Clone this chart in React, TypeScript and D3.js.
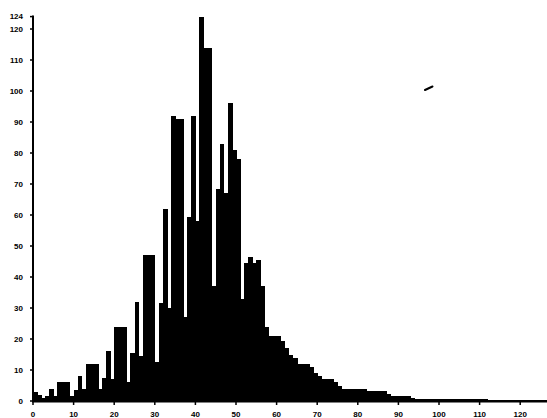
import React from 'react'
import * as d3 from 'd3'

const WIDTH = 547
const HEIGHT = 418

// one bin per unit, starting at 0
const binStarts: number[] = d3.range(0, 127)
const counts: number[] = [
  3, 2, 1, 1.5, 4, 1.5, 6, 6, 6, 1.5,
  3.5, 8, 4, 12, 12, 12, 4, 7.5, 16, 7,
  24, 24, 24, 6, 15.5, 32, 14.5, 47, 47, 47,
  12.5, 31.5, 62, 30, 92, 91, 91, 27, 59.5, 92,
  58, 124, 114, 114, 37, 68.5, 83, 67, 96, 81,
  78, 33, 44.5, 46.5, 44.5, 45.5, 37, 24, 21, 21,
  21, 19.5, 17, 15, 14, 12, 12, 12, 11, 9,
  8, 7, 7, 7, 6, 5, 4, 4, 4, 4,
  4, 4, 3.2, 3.2, 3.2, 3.2, 3.2, 2.2, 1.5, 1.5,
  1.5, 1.5, 1.5, 1, 0.7, 0.7, 0.7, 0.7, 0.7, 0.7,
  0.7, 0.7, 0.8, 0.8, 0.8, 0.8, 0.8, 0.8, 0.8, 0.8,
  0.8, 0.8, 0.3, 0.3, 0.3, 0.3, 0.3, 0.3, 0.3, 0.3,
  0.3, 0.3, 0.3, 0.3, 0.3, 0.3, 0.3,
]

const xTicks: number[] = [0, 10, 20, 30, 40, 50, 60, 70, 80, 90, 100, 110, 120]
const yTicks: number[] = [0, 10, 20, 30, 40, 50, 60, 70, 80, 90, 100, 110, 120, 124]

const FONT = '"Liberation Sans", Arial, sans-serif'

export default function App() {
  const x = d3.scaleLinear().domain([0, 120]).range([33, 520.2])
  const y = d3.scaleLinear().domain([0, 124]).range([401, 16.6])

  return (
    <svg
      width={WIDTH}
      height={HEIGHT}
      style={{ position: 'absolute', left: 0, top: 0, background: '#fff' }}
    >
      {/* bars */}
      <g fill="#000" shapeRendering="crispEdges">
        {binStarts.map((b, i) => (
          <rect
            key={b}
            x={x(b)}
            y={y(counts[i])}
            width={x(b + 1) - x(b) + 0.6}
            height={y(0) - y(counts[i])}
          />
        ))}
      </g>

      {/* y axis */}
      <line x1={x(0)} x2={x(0)} y1={y(124) - 1} y2={y(0) + 1} stroke="#000" strokeWidth={2} />
      {yTicks.map((t) => (
        <g key={t}>
          <line x1={x(0) - 3} x2={x(0)} y1={y(t)} y2={y(t)} stroke="#000" strokeWidth={1.5} />
          <text
            x={23}
            y={y(t)}
            dy="0.35em"
            textAnchor="end"
            fontFamily={FONT}
            fontWeight="bold"
            fontSize={8}
          >
            {t}
          </text>
        </g>
      ))}

      {/* x axis */}
      <line x1={x(0) - 1} x2={WIDTH} y1={y(0) + 0.5} y2={y(0) + 0.5} stroke="#000" strokeWidth={2} />
      {xTicks.map((t) => (
        <g key={t}>
          <line x1={x(t)} x2={x(t)} y1={y(0)} y2={y(0) + 4} stroke="#000" strokeWidth={1.5} />
          <text
            x={x(t)}
            y={417}
            textAnchor="middle"
            fontFamily={FONT}
            fontWeight="bold"
            fontSize={8}
          >
            {t}
          </text>
        </g>
      ))}

      {/* stray mark on the scan */}
      <line x1={425} y1={90} x2={432.5} y2={86.5} stroke="#000" strokeWidth={2} strokeLinecap="round" />
    </svg>
  )
}
